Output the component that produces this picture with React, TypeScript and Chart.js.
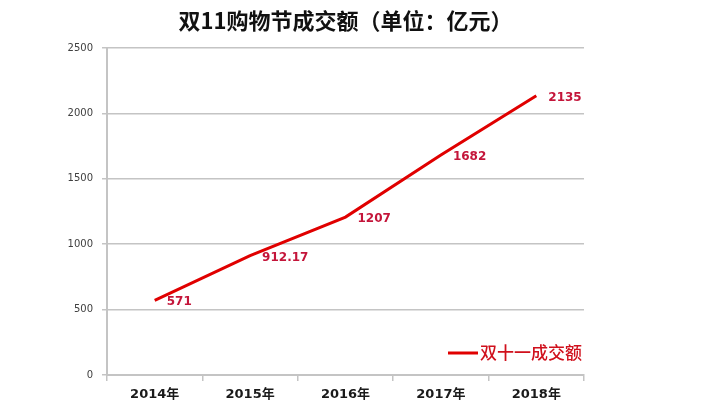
import React, { useEffect, useRef } from "react";
import { Chart, registerables } from "chart.js";

Chart.register(...registerables);

const titleText = "双11购物节成交额（单位：亿元）";
const categories = ["2014年", "2015年", "2016年", "2017年", "2018年"];
const seriesName = "双十一成交额";
const values = [571, 912.17, 1207, 1682, 2135];
const valueLabels = ["571", "912.17", "1207", "1682", "2135"];
const yMin = 0;
const yMax = 2500;
const yStep = 500;

const LINE_COLOR = "#e00000";
const LABEL_COLOR = "#c4153a";
const GRID_COLOR = "#c4c4c4";

const dataLabelPlugin = {
  id: "dataLabels",
  afterDatasetsDraw(chart: any) {
    const ctx = chart.ctx;
    const meta = chart.getDatasetMeta(0);
    ctx.save();
    ctx.font = "bold 12px 'DejaVu Sans'";
    ctx.fillStyle = LABEL_COLOR;
    ctx.textAlign = "left";
    ctx.textBaseline = "middle";
    meta.data.forEach((el: any, i: number) => {
      ctx.fillText(valueLabels[i], el.x + 12, el.y + 2);
    });
    ctx.restore();
  },
};

const insideLegendPlugin = {
  id: "insideLegend",
  afterDraw(chart: any) {
    const ctx = chart.ctx;
    const area = chart.chartArea;
    const label = chart.data.datasets[0].label as string;
    ctx.save();
    ctx.font = "500 17px 'Noto Sans CJK SC'";
    const w = ctx.measureText(label).width;
    const textX = area.right - 2 - w;
    const y = area.bottom - 22;
    ctx.strokeStyle = LINE_COLOR;
    ctx.lineWidth = 3;
    ctx.beginPath();
    ctx.moveTo(textX - 32, y);
    ctx.lineTo(textX - 2, y);
    ctx.stroke();
    ctx.fillStyle = "#d0101c";
    ctx.textAlign = "left";
    ctx.textBaseline = "middle";
    ctx.fillText(label, textX, y);
    ctx.restore();
  },
};

export default function App() {
  const ref = useRef<HTMLCanvasElement | null>(null);

  useEffect(() => {
    if (!ref.current) return;
    const chart = new Chart(ref.current, {
      type: "line",
      data: {
        labels: categories,
        datasets: [
          {
            label: seriesName,
            data: values,
            borderColor: LINE_COLOR,
            backgroundColor: LINE_COLOR,
            borderWidth: 3,
            pointRadius: 0,
            tension: 0,
            fill: false,
          },
        ],
      },
      options: {
        responsive: true,
        maintainAspectRatio: false,
        animation: false,
        layout: { padding: { left: 0, right: 136, top: 0, bottom: 0 } },
        plugins: {
          legend: { display: false },
          tooltip: { enabled: false },
          title: {
            display: true,
            text: titleText,
            fullSize: false,
            color: "#111111",
            font: { family: "'Noto Sans CJK SC'", size: 22, weight: "bold", lineHeight: 1.2 },
            padding: { top: 7, bottom: 14.6 },
          },
        },
        scales: {
          x: {
            type: "category",
            offset: true,
            grid: {
              offset: true,
              drawOnChartArea: false,
              drawTicks: true,
              tickLength: 6,
              color: GRID_COLOR,
              lineWidth: 1.5,
            },
            border: { display: true, color: GRID_COLOR, width: 2 },
            ticks: {
              color: "#1a1a1a",
              font: { family: "'DejaVu Sans', 'Noto Sans CJK SC'", size: 13, weight: "bold" },
              padding: 6,
              maxRotation: 0,
            },
            afterFit: (s: any) => {
              s.height = 39;
            },
          },
          y: {
            min: yMin,
            max: yMax,
            grid: {
              color: GRID_COLOR,
              lineWidth: 1.5,
              tickLength: 5,
            },
            border: { display: true, color: GRID_COLOR, width: 2 },
            ticks: {
              stepSize: yStep,
              color: "#404040",
              font: { family: "'DejaVu Sans'", size: 10 },
              padding: 9,
              callback: (v: any) => String(v),
            },
            afterFit: (s: any) => {
              s.width = 107;
            },
          },
        },
      },
      plugins: [dataLabelPlugin, insideLegendPlugin],
    });
    return () => chart.destroy();
  }, []);

  return (
    <div style={{ position: "fixed", left: 0, top: 0, width: 720, height: 414, background: "#fff" }}>
      <canvas ref={ref} />
    </div>
  );
}
